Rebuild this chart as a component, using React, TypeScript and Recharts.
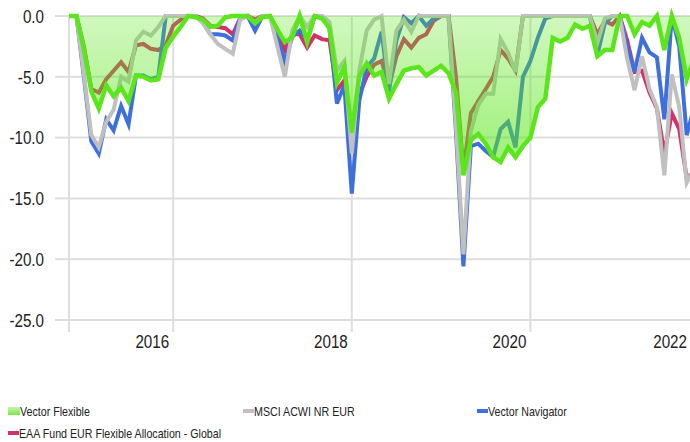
import { Area, CartesianGrid, ComposedChart, XAxis, YAxis } from "recharts";

const vectorFlexible = [
  0, 0, -2.7, -6.2, -7.6, -5.7, -6.6, -5.9, -7.0, -4.9, -5.0, -5.3, -5.2, -2.6, -1.7, -0.9, 0, -0.1, -0.3, -0.9,
  -0.8, -0.1, 0, 0, 0, -0.6, -0.1, 0, -1.1, -2.15, -1.75, 0, -2.15, 0, -0.2, -1.0, -5.5, -4.2, -9.6, -5.0,
  -3.9, -4.9, -4.6, -6.8, -5.6, -4.5, -4.3, -4.2, -4.9, -4.5, -4.1, -4.7, -6.3, -13.1, -10.2, -9.7, -10.5, -11.6, -12.0, -10.8,
  -11.6, -10.7, -10.0, -7.5, -6.8, -1.8, -2.1, -1.8, -0.7, -1.05, -0.8, -3.3, -2.8, -2.8, 0, 0, -1.5, -0.5, -0.8, 0,
  -2.8, 0, -1.8, -5.2, -3.5,
];
const msciAcwi = [
  0, 0, -4.8, -9.8, -10.8, -8.7, -7.7, -5.0, -5.4, -2.0, -1.3, -1.6, -0.9, 0, 0, 0, 0, 0, -0.6, -1.5,
  -2.3, -2.7, -3.1, -0.3, 0, -0.5, 0, 0, -2.5, -5.0, -1.2, 0, -0.9, 0, 0, -0.5, -4.5, -3.7, -11.3, -4.5,
  -1.2, -0.3, 0, -5.6, -1.2, -0.3, -1.3, 0, 0, 0, 0, 0, -9.0, -19.6, -9.5, -7.3, -6.4, -6.4, -1.9, -3.0,
  -4.6, 0, 0, 0, 0, 0, 0, 0, 0, 0, 0, -2.2, -0.2, 0, 0, -3.5, -6.1, -3.3, -6.0, -7.5,
  -13.1, -4.8, -7.5, -13.7, -12.5,
];
const vectorNavigator = [
  0, 0, -5.0, -10.3, -11.3, -8.5, -9.4, -7.4, -8.9, -4.9, -4.9, -5.2, -5.0, 0, 0, 0, 0, 0, -0.5, -1.5,
  -1.5, -1.6, -2.0, -0.2, 0, -1.2, 0, 0, -1.8, -3.8, -1.7, -1.2, -2.0, 0, 0, -1.0, -7.2, -5.7, -14.6, -7.0,
  -4.2, -3.5, -1.3, -6.2, -2.0, -0.1, -0.6, 0, -0.8, -0.2, 0, 0, -9.5, -20.6, -10.7, -10.5, -11.1, -11.6, -9.3, -8.7,
  -10.8, -5.0, -3.7, -1.8, -0.2, 0, 0, 0, 0, 0, 0, -3.2, -0.6, 0, 0, -2.5, -4.6, -1.8, -3.0, -3.4,
  -8.5, 0, -2.5, -9.8, -7.5,
];
const eaaFlexible = [
  0, 0, -2.5, -6.0, -6.3, -5.2, -4.5, -3.8, -4.6, -2.4, -2.3, -2.7, -2.8, -2.4, -0.8, -0.3, 0, 0, -0.2, -0.8,
  -0.9, -1.0, -1.5, -0.2, 0, -0.3, 0, 0, -1.3, -2.8, -1.5, -1.5, -2.6, -1.6, -1.9, -2.0, -6.1, -5.3, -11.0, -6.5,
  -5.0, -4.0, -3.7, -5.8, -3.3, -1.9, -2.6, -1.8, -1.5, -0.4, 0, 0, -5.0, -12.7, -8.0, -7.0, -6.0, -5.0, -2.8, -3.5,
  -4.5, 0, 0, 0, 0, 0, 0, 0, 0, 0, 0, -1.5, -0.4, -0.7, 0, -2.0, -4.6, -4.5, -6.3, -7.6,
  -11.3, -8.0, -9.3, -13.3, -12.8,
];

const yearTicks = [0, 14, 38, 62, 86];
const yearLabels = ["", "2016", "2018", "2020", "2022"];
const valueTicks = [0, -5, -10, -15, -20, -25];

const legendItems = [
  { name: "Vector Flexible", color: "#5ae61a", area: true },
  { name: "MSCI ACWI NR EUR", color: "#c0c0c0", area: false },
  { name: "Vector Navigator", color: "#3d6fde", area: false },
  { name: "EAA Fund EUR Flexible Allocation - Global", color: "#d4306a", area: false },
];

const data = vectorFlexible.map((v, i) => ({
  period: i,
  flexible: v,
  msci: msciAcwi[i],
  navigator: vectorNavigator[i],
  eaa: eaaFlexible[i],
}));

// no narrow font installed, so squeeze Liberation Sans instead
const font = "'Liberation Sans', Arial, sans-serif";
const squeeze = 0.8;

function YearTick(props: any) {
  const { x, y, payload } = props;
  const label = yearLabels[yearTicks.indexOf(payload.value)];
  return (
    <g transform={`translate(${Math.min(x - 4, 687)},${y + 14}) scale(${squeeze},1)`}>
      <text x={0} y={0} textAnchor="end" fill="#222" fontSize={19} fontFamily={font}>
        {label}
      </text>
    </g>
  );
}

function ValueTick(props: any) {
  const { x, y, payload } = props;
  return (
    <g transform={`translate(${x},${y}) scale(${squeeze},1)`}>
      <text x={0} y={0} dy="0.36em" textAnchor="end" fill="#222" fontSize={19} fontFamily={font}>
        {Number(payload.value).toFixed(1)}
      </text>
    </g>
  );
}

function ChartLegend() {
  return (
    <div
      style={{
        position: "absolute",
        left: 8,
        top: 400,
        display: "grid",
        gridTemplateColumns: "235px 234px 234px",
        fontFamily: font,
        fontSize: 13,
        color: "#222",
      }}
    >
      {legendItems.map((it) => (
        <div key={it.name} style={{ height: 22, display: "flex", alignItems: "center", whiteSpace: "nowrap" }}>
          {it.area ? (
            <span style={{ width: 12, height: 8, background: "linear-gradient(#c8f5b0, #7ee44a)", flex: "none" }} />
          ) : (
            <span style={{ width: 11, height: 4, background: it.color, flex: "none" }} />
          )}
          <span style={{ display: "inline-block", transform: `scaleX(${squeeze + 0.02})`, transformOrigin: "left center" }}>
            {it.name}
          </span>
        </div>
      ))}
    </div>
  );
}

export default function App() {
  return (
    <div style={{ position: "absolute", left: 0, top: 0, width: 690, height: 442, overflow: "hidden", background: "#fff" }}>
      <ComposedChart width={712} height={360} data={data} margin={{ top: 16, right: 3, left: 0, bottom: 0 }}>
        <defs>
          <linearGradient id="flexFill" x1="0" y1="0" x2="0" y2="1">
            <stop offset="0%" stopColor="#5ae61a" stopOpacity={0.28} />
            <stop offset="100%" stopColor="#5ae61a" stopOpacity={0.62} />
          </linearGradient>
        </defs>
        <CartesianGrid stroke="#dedede" strokeWidth={2} horizontalValues={valueTicks} />
        <XAxis
          dataKey="period"
          type="number"
          domain={[0, 86]}
          ticks={yearTicks}
          interval={0}
          axisLine={false}
          tickLine={{ stroke: "#dedede", strokeWidth: 2 }}
          tickSize={12}
          tick={<YearTick />}
          height={40}
        />
        <YAxis
          domain={[-25, 0]}
          ticks={valueTicks}
          interval={0}
          width={69}
          axisLine={false}
          tickLine={{ stroke: "#dedede", strokeWidth: 2 }}
          tickSize={14}
          tickMargin={11}
          tick={<ValueTick />}
        />
        {/* plain lines drawn as unfilled areas so the green fill sits on top of them */}
        <Area dataKey="eaa" stroke="#d4306a" strokeWidth={4} fill="none" dot={false} activeDot={false} isAnimationActive={false} />
        <Area dataKey="navigator" stroke="#3d6fde" strokeWidth={4} fill="none" dot={false} activeDot={false} isAnimationActive={false} />
        <Area dataKey="msci" stroke="#c0c0c0" strokeWidth={4} fill="none" dot={false} activeDot={false} isAnimationActive={false} />
        <Area
          dataKey="flexible"
          baseValue={0}
          stroke="#5ae61a"
          strokeWidth={4.5}
          fill="url(#flexFill)"
          fillOpacity={1}
          dot={false}
          activeDot={false}
          isAnimationActive={false}
        />
      </ComposedChart>
      <ChartLegend />
    </div>
  );
}
